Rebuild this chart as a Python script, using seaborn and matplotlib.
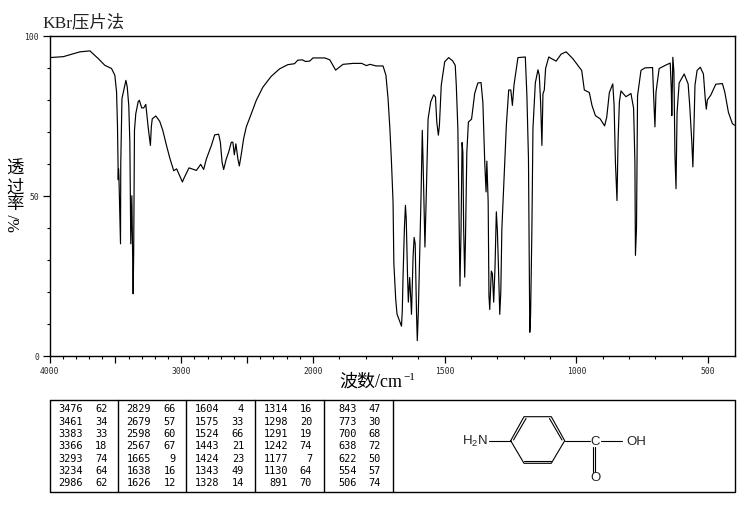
import numpy as np
import pandas as pd
import seaborn as sns
import matplotlib.pyplot as plt
from matplotlib.ticker import FixedLocator, FixedFormatter, NullFormatter

# spectrum
wavenumber = [4000, 3895, 3769, 3693, 3630, 3580, 3529, 3504, 3491, 3484, 3478, 3476, 3473, 3461, 3459, 3450, 3420,
              3410, 3398, 3390, 3383, 3375, 3365, 3361, 3355, 3345, 3327, 3318, 3300, 3285, 3269, 3250, 3234, 3227,
              3220, 3193, 3163, 3140, 3112, 3085, 3057, 3035, 2991, 2980, 2941, 2885, 2852, 2830, 2809, 2771, 2746,
              2716, 2703, 2690, 2678, 2658, 2640, 2620, 2608, 2597, 2585, 2570, 2559, 2545, 2526, 2506, 2468, 2430,
              2380, 2316, 2253, 2191, 2140, 2115, 2080, 2057, 2025, 2000, 1955, 1936, 1914, 1886, 1848, 1815, 1797,
              1784, 1760, 1734, 1723, 1715, 1708, 1702, 1696, 1693, 1686, 1681, 1664, 1661, 1658, 1653, 1649, 1646,
              1641, 1638, 1633, 1630, 1626, 1620, 1616, 1612, 1607, 1604, 1600, 1595, 1590, 1585, 1582, 1575, 1570,
              1563, 1553, 1542, 1535, 1530, 1524, 1520, 1513, 1500, 1485, 1470, 1460, 1456, 1450, 1447, 1445, 1442,
              1438, 1434, 1431, 1428, 1424, 1421, 1416, 1410, 1398, 1386, 1374, 1362, 1355, 1348, 1343, 1340, 1335,
              1332, 1329, 1323, 1319, 1314, 1309, 1304, 1300, 1296, 1291, 1287, 1283, 1279, 1272, 1266, 1257, 1249,
              1243, 1237, 1222, 1194, 1188, 1182, 1179, 1177, 1174, 1169, 1165, 1156, 1146, 1141, 1136, 1131, 1127,
              1122, 1117, 1105, 1095, 1077, 1058, 1039, 1014, 980, 970, 951, 941, 928, 910, 893, 885, 875, 862, 857,
              852, 846, 842, 837, 831, 812, 793, 783, 778, 776, 772, 768, 755, 740, 711, 707, 702, 698, 686, 660, 644,
              640, 638, 634, 630, 626, 622, 618, 610, 591, 576, 570, 562, 558, 554, 550, 542, 530, 518, 511, 507, 503,
              490, 471, 446, 437, 423, 408, 400]
transmittance = [93.1, 93.4, 94.9, 95.2, 92.8, 90.7, 89.7, 87.6, 82.4, 72, 55, 58.4, 56, 35, 60, 80.3, 86,
                 84, 78, 66.6, 35, 50, 19.4, 32, 70.4, 75.6, 79.3, 79.8, 77.4, 77.4, 78.5, 71, 65.7, 71.5,
                 74, 74.9, 73.2, 70.4, 65.7, 61.5, 57.8, 58.4, 54.3, 55.4, 58.7, 57.9, 59.8, 58.2, 61.5, 65.7, 69,
                 69.2, 66.7, 60.5, 58.2, 61.5, 63.6, 66.7, 66.7, 62.8, 66.2, 61.5, 59.3, 62.7, 67.9, 71.5, 75.6, 79.8,
                 83.9, 87.3, 89.6, 90.9, 91.2, 92.3, 92.4, 91.9, 92, 93, 93, 92.4, 89.2, 91, 91.3, 91.3, 90.6,
                 91, 90.5, 90.5, 87.6, 80.3, 70.9, 60.5, 48, 29, 17.8, 13.1, 9.3, 14, 25, 39.7, 47, 42.8,
                 25, 16.8, 24.5, 20, 13, 31, 37, 35, 13.6, 4.8, 14, 31.4, 49, 70.4, 60.5, 34, 50,
                 74, 79.3, 81.5, 80.8, 73, 68.9, 72, 84.5, 91.8, 93.1, 92.1, 90.7, 84.5, 70.9, 53.2, 39.7, 21.8,
                 39, 66.6, 63.5, 39.7, 24.6, 37, 63.5, 73, 73.9, 82, 85.2, 85.3, 79, 60.5, 51.2, 60.8, 48,
                 18.8, 14.5, 26.5, 25.7, 16.8, 27.7, 45, 39, 28, 13, 20, 39.7, 47, 60.5, 72, 83, 83,
                 78.2, 84.5, 93.1, 93.3, 81.3, 61.5, 29, 7.4, 12.5, 39.7, 71, 85.2, 89.3, 87.6, 79.3, 65.7, 81.8,
                 83, 89.7, 93.3, 92.8, 92, 94.2, 94.9, 92.8, 89.1, 83, 82.2, 78.2, 75, 74, 71.8, 74.5, 82.2, 84.9, 78.2,
                 60.5, 48.5, 67, 79.2, 82.7, 80.9, 81.9, 77.3, 60.5, 31.4, 39.7, 81.2, 89.1, 89.9, 90, 81.3, 71.5, 82.3, 89.7, 90.8, 91.4,
                 83.4, 75, 93.2, 88.7, 62.7, 52.2, 76, 85.2, 88, 84.9, 78.2, 66.7, 59, 71, 84.5, 89.1, 90.1, 88, 80.2, 77, 79.9,
                 81.4, 84.8, 85, 82.4, 76, 72.5, 72]

# peak table, one list per column block
peak_col1 = ["3476", "3461", "3383", "3366", "3293", "3234", "2986"]
t_col1 = ["62", "34", "33", "18", "74", "64", "62"]
peak_col2 = ["2829", "2679", "2598", "2567", "1665", "1638", "1626"]
t_col2 = ["66", "57", "60", "67", "9", "16", "12"]
peak_col3 = ["1604", "1575", "1524", "1443", "1424", "1343", "1328"]
t_col3 = ["4", "33", "66", "21", "23", "49", "14"]
peak_col4 = ["1314", "1298", "1291", "1242", "1177", "1130", "891"]
t_col4 = ["16", "20", "19", "74", "7", "64", "70"]
peak_col5 = ["843", "773", "700", "638", "622", "554", "506"]
t_col5 = ["47", "30", "68", "72", "50", "57", "74"]

x_major = [4000, 3500, 3000, 2500, 2000, 1500, 1000, 500]
x_major_labels = ["4000", "", "3000", "", "2000", "1500", "1000", "500"]
y_major = [0, 50, 100]

W, H = 738, 510
CJK = ["Liberation Serif", "Noto Sans CJK SC", "DejaVu Sans"]

sns.set_theme(style="white")
plt.rcParams["font.family"] = CJK
plt.rcParams["mathtext.default"] = "regular"


def fwd(w):
    w = np.asarray(w, dtype=float)
    return np.where(w >= 2000, w / 1000, 2 - (2000 - w) / 500)


def inv(p):
    p = np.asarray(p, dtype=float)
    return np.where(p >= 2, p * 1000, 2000 - (2 - p) * 500)


def box(x0, y0, x1, y1):
    # pixel box of the reference -> figure fractions
    return [x0 / W, 1 - y1 / H, (x1 - x0) / W, (y1 - y0) / H]


fig = plt.figure(figsize=(7.38, 5.10), dpi=100)
ax = fig.add_axes(box(49.5, 36.5, 734.5, 357))

df = pd.DataFrame({"wavenumber": wavenumber, "T": transmittance})
sns.lineplot(data=df, x="wavenumber", y="T", sort=False, estimator=None,
             color="black", linewidth=0.85, ax=ax)

ax.set_xscale("function", functions=(fwd, inv))
ax.set_xlim(4000, 400)
ax.set_ylim(0, 100)
ax.set_xlabel("")
ax.set_ylabel("")
ax.xaxis.set_major_locator(FixedLocator(x_major))
ax.xaxis.set_major_formatter(FixedFormatter(x_major_labels))
ax.xaxis.set_minor_locator(FixedLocator(list(range(3900, 400, -100))))
ax.xaxis.set_minor_formatter(NullFormatter())
ax.yaxis.set_major_locator(FixedLocator(y_major))
ax.yaxis.set_minor_locator(FixedLocator(list(range(10, 100, 10))))
ax.yaxis.set_minor_formatter(NullFormatter())
ax.tick_params(axis="both", which="major", bottom=True, left=True, length=5, width=0.9,
               labelsize=5.8, pad=2.5, color="black", labelfontfamily="DejaVu Sans Mono")
ax.tick_params(axis="both", which="minor", bottom=True, left=True, length=2.5, width=0.8, color="black")
for s in ax.spines.values():
    s.set_color("black")
    s.set_linewidth(1.0)

fig.text(42 / W, 1 - 23 / H, "KBr压片法", fontsize=12.5, va="center", ha="left", color="#222222")
# mathtext has no CJK fallback, so the exponent is its own text
fig.text(402 / W, 1 - 382 / H, "波数/cm", fontsize=13, va="center", ha="right", color="black")
fig.text(403 / W, 1 - 378 / H, "\u22121", fontsize=8, va="center", ha="left", color="black")
for ch, y in zip("透过率", [170, 189, 205]):
    fig.text(15 / W, 1 - y / H, ch, fontsize=12.5, va="center", ha="center", color="black")
fig.text(15 / W, 1 - 223 / H, "%/", fontsize=12, rotation=90, va="center", ha="center", color="black")

# peak table + structure panel, drawn in reference pixels
tab = fig.add_axes([0, 0, 1, 1], zorder=-1)
tab.set_xlim(0, W)
tab.set_ylim(H, 0)
tab.axis("off")
tab.plot([49.5, 734.5, 734.5, 49.5, 49.5], [400.5, 400.5, 492.5, 492.5, 400.5], color="black", lw=1)
dividers = [118, 186, 255, 324, 393]
for xd in dividers:
    tab.plot([xd, xd], [400.5, 492.5], color="black", lw=1)

rows_y = [409.3, 421.7, 434, 446.3, 458.7, 471, 483.3]
blocks = [(peak_col1, t_col1, 82.5, 107.5), (peak_col2, t_col2, 151, 176), (peak_col3, t_col3, 219.5, 244),
          (peak_col4, t_col4, 288, 312), (peak_col5, t_col5, 356.5, 381)]
for peaks, vals, xp, xv in blocks:
    for p, v, y in zip(peaks, vals, rows_y):
        tab.text(xp, y, p, fontsize=7.4, family="DejaVu Sans Mono", ha="right", va="center", color="black")
        tab.text(xv, y, v, fontsize=7.4, family="DejaVu Sans Mono", ha="right", va="center", color="black")

# 4-aminobenzoic acid
ring_x = [510.7, 524, 551.3, 564.7, 551.3, 524, 510.7]
ring_y = [441.7, 417.7, 417.7, 441.7, 464.3, 464.3, 441.7]
tab.plot(ring_x, ring_y, color="black", lw=0.8)
tab.plot([513.5, 526], [441, 419.5], color="black", lw=0.8)
tab.plot([549.5, 562], [419.5, 441], color="black", lw=0.8)
tab.plot([524, 551.3], [462, 462], color="black", lw=0.8)
tab.plot([489, 510.7], [441.7, 441.7], color="black", lw=0.8)
tab.plot([564.7, 590], [441.7, 441.7], color="black", lw=0.8)
tab.plot([601, 621.5], [441.7, 441.7], color="black", lw=0.8)
tab.plot([592.5, 592.5], [448, 473], color="black", lw=0.8)
tab.plot([594.8, 594.8], [448, 473], color="black", lw=0.8)
chem = dict(fontsize=9.5, family="Liberation Sans", va="center", color="#222222")
tab.text(462.5, 441.7, "H$_2$N", ha="left", **chem)
tab.text(595.5, 441.7, "C", ha="center", **chem)
tab.text(636, 441.7, "OH", ha="center", **chem)
tab.text(595.5, 478.5, "O", ha="center", **chem)

fig.savefig("out.png", dpi=100)
